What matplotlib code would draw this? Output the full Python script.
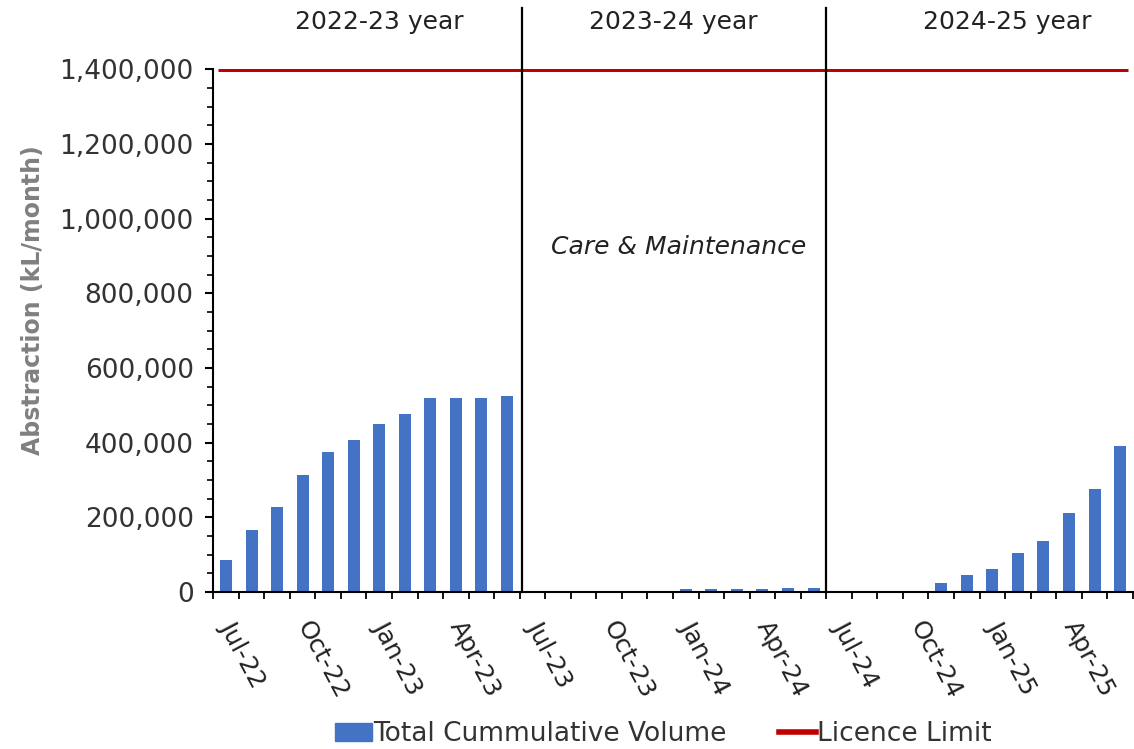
import matplotlib.pyplot as plt
from matplotlib.patches import Patch
from matplotlib.lines import Line2D
from matplotlib.ticker import FuncFormatter, MultipleLocator
import numpy as np

plt.rcParams['font.family'] = ['DejaVu Sans']

# monthly cumulative abstraction, Jul-22 .. Jun-25
months = ['Jul-22', 'Aug-22', 'Sep-22', 'Oct-22', 'Nov-22', 'Dec-22',
          'Jan-23', 'Feb-23', 'Mar-23', 'Apr-23', 'May-23', 'Jun-23',
          'Jul-23', 'Aug-23', 'Sep-23', 'Oct-23', 'Nov-23', 'Dec-23',
          'Jan-24', 'Feb-24', 'Mar-24', 'Apr-24', 'May-24', 'Jun-24',
          'Jul-24', 'Aug-24', 'Sep-24', 'Oct-24', 'Nov-24', 'Dec-24',
          'Jan-25', 'Feb-25', 'Mar-25', 'Apr-25', 'May-25', 'Jun-25']
volume_2223 = [85000, 166000, 228000, 313000, 375000, 407000,
               450000, 476000, 519000, 519000, 519000, 524000]
volume_2324 = [0, 0, 0, 3000, 3000, 3000,
               8000, 8000, 8000, 8000, 11000, 11000]
volume_2425 = [0, 0, 2000, 2000, 23000, 45000,
               61000, 104000, 137000, 211000, 277000, 392000]
licence_limit = 1400000
year_labels = ['2022-23 year', '2023-24 year', '2024-25 year']

volume = volume_2223 + volume_2324 + volume_2425
x = np.arange(len(months))

fig = plt.figure(figsize=(11.34, 7.49), dpi=100)
ax = fig.add_axes([0.188, 0.2096, 0.811, 0.698])

ax.bar(x, volume, width=0.47, color='#4472C4', zorder=2)
ax.plot([x[0] - 0.3, x[-1] + 0.3], [licence_limit, licence_limit],
        color='#C00000', lw=3.6, zorder=3, solid_capstyle='butt')

ax.set_xlim(-0.5, len(months) - 0.5)
ax.set_ylim(0, 1400000)

# year separators and headers
for xs in [11.6, 23.5]:
    ax.plot([xs, xs], [0, 1.117], color='black', lw=1.6,
            transform=ax.get_xaxis_transform(), clip_on=False, zorder=4)
for xp, lab in zip([6.0, 17.5, 30.6], year_labels):
    ax.text(xp, 1.09, lab, transform=ax.get_xaxis_transform(),
            ha='center', va='center', fontsize=18, color='#222222')
ax.text(17.7, 925000, 'Care & Maintenance', ha='center', va='center',
        fontsize=18, style='italic', color='#222222')

# axes styling
for s in ['top', 'right']:
    ax.spines[s].set_visible(False)
ax.spines['left'].set_linewidth(1.5)
ax.spines['bottom'].set_linewidth(1.5)

ax.yaxis.set_major_locator(MultipleLocator(200000))
ax.yaxis.set_minor_locator(MultipleLocator(50000))
ax.yaxis.set_major_formatter(FuncFormatter(lambda v, p: f'{int(v):,}'))
ax.tick_params(axis='y', which='major', labelsize=19, labelcolor='#333333',
               length=6, width=1.5, pad=8)
ax.tick_params(axis='y', which='minor', length=4, width=1.2)

ax.set_xticks(x[::3])
ax.set_xticklabels(months[::3], rotation=-62, ha='left', va='center',
                   rotation_mode='anchor', fontsize=18, color='#222222')
ax.set_xticks(np.arange(-0.5, len(months), 1), minor=True)
ax.tick_params(axis='x', which='major', length=0, pad=22)
ax.tick_params(axis='x', which='minor', length=5, width=1.3)

ax.set_ylabel('Abstraction (kL/month)', fontsize=17, fontweight='bold',
              color='#808080')
ax.yaxis.set_label_coords(-0.183, 0.558)

handles = [Patch(color='#4472C4'), Line2D([], [], color='#C00000', lw=4)]
fig.legend(handles, ['Total Cummulative Volume', 'Licence Limit'],
           loc='center', bbox_to_anchor=(0.585, 0.02), ncol=2,
           frameon=False, fontsize=19, handlelength=1.4, handletextpad=0.05,
           columnspacing=2.0, labelcolor='#333333', borderpad=0.1)

fig.savefig('out.png', dpi=100)
